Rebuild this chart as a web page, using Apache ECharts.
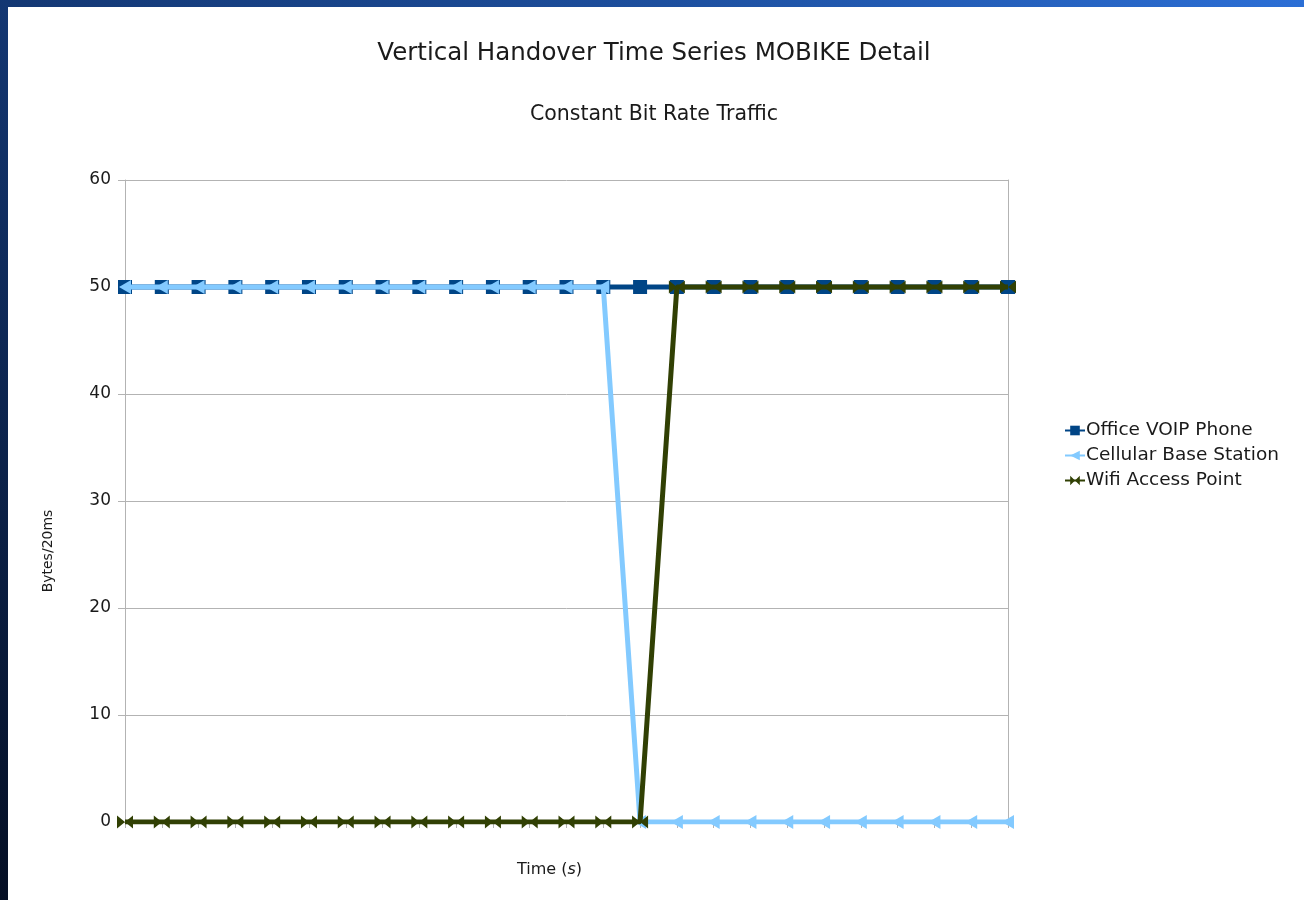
<!DOCTYPE html>
<html>
<head>
<meta charset="utf-8">
<title>Vertical Handover Time Series MOBIKE Detail</title>
<script src="https://cdn.jsdelivr.net/npm/echarts@6/dist/echarts.min.js"></script>
<style>
  html, body { margin: 0; padding: 0; width: 1304px; height: 900px; overflow: hidden; }
  body { background: linear-gradient(35deg, #050f24 0%, #12336b 45%, #1d4f9e 75%, #2c6fd6 100%); position: relative; }
  #chart { position: absolute; left: 8px; top: 7px; width: 1296px; height: 893px; background: #ffffff; }
</style>
</head>
<body>
<div id="chart"></div>
<script>
// Sample index along the time axis (25 samples, unlabeled)
const timeSteps = ['0','1','2','3','4','5','6','7','8','9','10','11','12','13','14','15','16','17','18','19','20','21','22','23','24'];

// Bytes per 20 ms seen at each node
const officeVoip = [50,50,50,50,50,50,50,50,50,50,50,50,50,50,50,50,50,50,50,50,50,50,50,50,50];
const cellularBase = [50,50,50,50,50,50,50,50,50,50,50,50,50,50,0,0,0,0,0,0,0,0,0,0,0];
const wifiAccess = [0,0,0,0,0,0,0,0,0,0,0,0,0,0,0,50,50,50,50,50,50,50,50,50,50];

const yTicks = [0, 10, 20, 30, 40, 50, 60];

const FONT = 'DejaVu Sans, Verdana, sans-serif';
const INK = '#1a1a1a';
const arrowLeft = 'path://M0,5 L10,0 L10,10 Z';
const bowtie = 'path://M0,0 L10,5 L0,10 Z M20,0 L10,5 L20,10 Z';

const chart = echarts.init(document.getElementById('chart'), null, { renderer: 'canvas' });

chart.setOption({
  backgroundColor: '#ffffff',
  animation: false,
  textStyle: { fontFamily: FONT },
  title: [
    {
      text: 'Vertical Handover Time Series MOBIKE Detail',
      left: 641, top: 29, textAlign: 'center',
      textStyle: { fontFamily: FONT, fontSize: 24.5, fontWeight: 'normal', color: INK }
    },
    {
      text: 'Constant Bit Rate Traffic',
      left: 641, top: 92, textAlign: 'center',
      textStyle: { fontFamily: FONT, fontSize: 20.5, fontWeight: 'normal', color: INK }
    }
  ],
  legend: {
    orient: 'vertical',
    left: 1051, top: 409,
    itemGap: 6,
    itemWidth: 20, itemHeight: 12,
    textStyle: { fontFamily: FONT, fontSize: 18.5, color: INK, padding: [0, 0, 0, -4] },
    data: ['Office VOIP Phone', 'Cellular Base Station', 'Wifi Access Point']
  },
  grid: { left: 117, right: 296, top: 173, bottom: 78, containLabel: false },
  xAxis: {
    type: 'category',
    data: timeSteps,
    boundaryGap: false,
    name: '{n|Time (}{i|s}{n|)}',
    nameLocation: 'middle',
    nameGap: 40,
    nameTextStyle: {
      padding: [0, 34, 0, 0],
      rich: {
        n: { fontFamily: FONT, fontSize: 16, color: INK },
        i: { fontFamily: FONT, fontSize: 16, color: INK, fontStyle: 'italic' }
      }
    },
    axisLine: { show: true, lineStyle: { color: '#b3b3b3', width: 1 } },
    axisTick: { show: true, length: 6, inside: false, lineStyle: { color: '#b3b3b3' } },
    axisLabel: { show: false },
    splitLine: { show: false }
  },
  yAxis: [
    {
      type: 'value',
      min: yTicks[0], max: yTicks[yTicks.length - 1], interval: 10,
      name: 'Bytes/20ms',
      nameLocation: 'middle',
      nameGap: 70,
      nameRotate: 90,
      nameTextStyle: { fontFamily: FONT, fontSize: 14, color: INK, padding: [0, 100, 0, 0] },
      axisLine: { show: true, lineStyle: { color: '#b3b3b3', width: 1 } },
      axisTick: { show: true, length: 7, lineStyle: { color: '#b3b3b3' } },
      axisLabel: { fontFamily: FONT, fontSize: 17, color: INK, margin: 14 },
      splitLine: { show: true, lineStyle: { color: '#b3b3b3', width: 1 } }
    },
    {
      type: 'value',
      min: yTicks[0], max: yTicks[yTicks.length - 1], interval: 10,
      position: 'right',
      axisLine: { show: true, lineStyle: { color: '#b3b3b3', width: 1 } },
      axisTick: { show: false },
      axisLabel: { show: false },
      splitLine: { show: false }
    }
  ],
  series: [
    {
      name: 'Office VOIP Phone',
      type: 'line',
      data: officeVoip,
      color: '#004586',
      symbol: 'rect',
      symbolSize: 14,
      showAllSymbol: true,
      lineStyle: { width: 5, color: '#004586' },
      itemStyle: { color: '#004586' },
      z: 2
    },
    {
      name: 'Cellular Base Station',
      type: 'line',
      data: cellularBase,
      color: '#83caff',
      symbol: arrowLeft,
      symbolSize: [12, 14],
      showAllSymbol: true,
      lineStyle: { width: 5, color: '#83caff' },
      itemStyle: { color: '#83caff' },
      z: 3
    },
    {
      name: 'Wifi Access Point',
      type: 'line',
      data: wifiAccess,
      color: '#314004',
      symbol: bowtie,
      symbolSize: [16, 13],
      showAllSymbol: true,
      lineStyle: { width: 5, color: '#314004' },
      itemStyle: { color: '#314004' },
      z: 4
    }
  ]
});
</script>
</body>
</html>
